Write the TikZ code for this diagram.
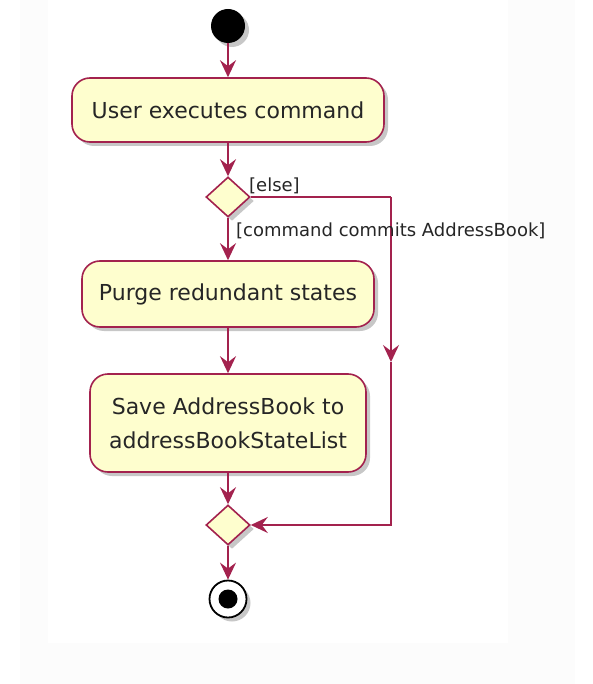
\documentclass[tikz,border=0pt]{standalone}
\usepackage{fontspec}
\setmainfont{DejaVu Sans}
\usepackage{xcolor}
\usepackage{tikz}
\usetikzlibrary{arrows.meta,shapes.geometric,shadows}

\definecolor{umlred}{HTML}{A3224E}
\definecolor{umlfill}{HTML}{FEFECE}

\begin{document}
\begin{tikzpicture}[x=1pt,y=-1pt]
		\tikzstyle{shade}=[drop shadow={shadow xshift=4pt,shadow yshift=-4pt,opacity=0.22,fill=black}]
		\tikzstyle{action}=[shade,draw=umlred,fill=umlfill,line width=1.6pt,rounded corners=18pt,align=center,inner sep=0pt,text=black!85,font=\fontsize{22}{34}\selectfont]
		\tikzstyle{branch}=[shade,diamond,draw=umlred,fill=umlfill,line width=1.6pt,minimum width=44pt,minimum height=40pt,inner sep=0pt]
		\tikzstyle{flow}=[draw=umlred,line width=1.6pt,-{Stealth[length=17pt,width=16pt,inset=6pt]}]
		\tikzstyle{line}=[draw=umlred,line width=1.6pt]
		\tikzstyle{guard}=[font=\fontsize{18}{22}\selectfont,text=black!85,inner sep=0pt]

		% background
		\useasboundingbox (0,0) rectangle (592,684);
		\fill[black!1] (20,0) rectangle (575,684);
		\fill[white] (48,0) rectangle (508,643);

		\node [shade,circle,fill=black,minimum size=34pt,inner sep=0pt] (start) at (228,26) {};

		\node [action,minimum width=312pt,minimum height=64pt] (act1) at (228,110) {User executes command};

		\node [branch] (if1) at (228,197) {};

		\node [action,minimum width=292pt,minimum height=66pt] (act2) at (228,294) {Purge redundant states};

		\node [action,minimum width=276pt,minimum height=98pt] (act3) at (228,423) {Save AddressBook to\\addressBookStateList};

		\node [branch] (endif1) at (228,525) {};

		\node [shade,circle,draw=black,line width=1.8pt,fill=white,minimum size=37pt,inner sep=0pt] (stop) at (228,599) {};
		\node [circle,fill=black,minimum size=19pt,inner sep=0pt] (stop-dot) at (stop) {};

		\coordinate (else-top) at (391,197);
		\coordinate (else-mid) at (391,362);
		\coordinate (else-bot) at (391,525);

		% connectors
		\draw [flow] (start) -- (act1);
		\draw [flow] (act1) -- (if1);
		\draw [flow] (if1) -- (act2);
		\draw [flow] (act2) -- (act3);
		\draw [flow] (act3) -- (endif1);
		\draw [flow] (endif1) -- (stop);

		\draw [line] (if1.east) -- (else-top);
		\draw [flow] (else-top) -- (else-mid);
		\draw [flow] (else-mid) -- (else-bot) -- (endif1.east);

		\node [guard,anchor=south west] at (249,194) {[else]};
		\node [guard,anchor=west] at (236,231) {[command commits AddressBook]};
	\end{tikzpicture}
\end{document}
